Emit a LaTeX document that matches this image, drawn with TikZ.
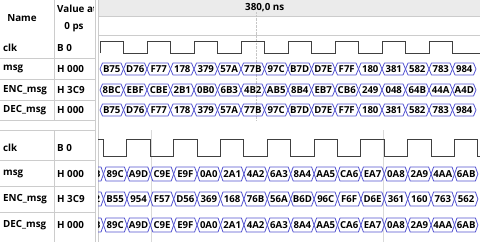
\documentclass[tikz,border=0pt]{standalone}
\usepackage{fontspec}
\setmainfont{Open Sans}
\definecolor{busblue}{rgb}{0.33,0.33,0.82}
\definecolor{rulegray}{gray}{0.80}
\definecolor{bargray}{gray}{0.92}
\tikzset{
  txt/.style={font=\bfseries\fontsize{9.8}{11}\selectfont,inner sep=0pt,anchor=west},
  hexval/.style={font=\bfseries\fontsize{9.6}{11}\selectfont,inner sep=0pt},
  bus/.style={busblue,line width=0.8pt,line join=round},
  wave/.style={black!75,line width=1pt},
  rule/.style={rulegray,line width=0.6pt}
}
% one bus row: prefix, centre y, half height, start x, step, values
\newcommand{\busrow}[6]{%
  \foreach \v [count=\i from 0] in {#6} {
    \pgfmathsetmacro{\xa}{#4+#5*\i}
    \pgfmathsetmacro{\xb}{\xa+#5}
    \draw[bus] (\xa,#2) -- (\xa+2.5,#2-#3) -- (\xb-2.5,#2-#3) -- (\xb,#2)
      -- (\xb-2.5,#2+#3) -- (\xa+2.5,#2+#3) -- cycle;
    \node[hexval] (#1\i) at ({(\xa+\xb)/2},#2) {\v};
  }}

\begin{document}
\begin{tikzpicture}[x=1pt,y=-1pt]
  \useasboundingbox (0,0) rectangle (480,242);
  \fill[white] (0,0) rectangle (480,242);
  % time bar
  \fill[bargray] (98,0) rectangle (480,16);
  \draw[rule] (98,16) -- (480,16);
  \draw[rule] (98,35) -- (480,35);
  \node[txt] (time) at (245,8) {380,0 ns};
  \draw[gray!45,densely dotted] (256,12) -- (256,120);
  \draw[gray!30] (151,130) -- (151,242);
  \draw[gray!30] (383,130) -- (383,242);
  % name and value columns
  \draw[rule] (54,0) -- (54,120);
  \draw[rule] (54,130) -- (54,242);
  \draw[rule] (95,0) -- (95,242);
  \draw[rule] (98,0) -- (98,242);
  \foreach \y in {58,79,100,120,130,160,186,212} \draw[rule] (0,\y) -- (95,\y);
  \node[txt,anchor=center] (name) at (22,18) {Name};
  \begin{scope}
    \clip (55,0) rectangle (93.5,20);
    \node[txt] (valat) at (57,9) {Value at};
  \end{scope}
  \node[txt,anchor=center] (valps) at (74,27) {0 ps};
  \foreach \n/\t/\val/\y in {clkA/clk/B 0/48, msgA/msg/H 000/69, encA/ENC\_msg/H 3C9/90, decA/DEC\_msg/H 000/110,
      clkB/clk/B 0/148, msgB/msg/H 000/174, encB/ENC\_msg/H 3C9/199, decB/DEC\_msg/H 000/225} {
    \node[txt] (\n-name) at (3,\y) {\t};
    \node[txt] (\n-val) at (57,\y) {\val};
  }
  % clocks
  \draw[wave] (100,53) -- (100,41) foreach \k in {0,...,6} { -- ++(23.5,0) -- ++(0,12) -- ++(23.5,0) -- ++(0,-12) }
    -- ++(23.5,0) -- ++(0,12) -- (480,53);
  \draw[wave] (98,139) -- (103.5,139) -- ++(0,17) foreach \k in {0,...,7} { -- ++(23.4,0) -- ++(0,-17) -- ++(23.4,0) -- ++(0,17) }
    -- (480,156);
  % buses, upper window
  \busrow{msgA}{69}{6}{100}{23.5}{B75,D76,F77,178,379,57A,77B,97C,B7D,D7E,F7F,180,381,582,783,984}
  \busrow{encA}{90}{6}{100}{23.5}{8BC,EBF,CBE,2B1,0B0,6B3,4B2,AB5,8B4,EB7,CB6,249,048,64B,44A,A4D}
  \busrow{decA}{110}{6}{100}{23.5}{B75,D76,F77,178,379,57A,77B,97C,B7D,D7E,F7F,180,381,582,783,984}
  % buses, lower window
  \busrow{msgB}{174}{7}{103.5}{23.4}{89C,A9D,C9E,E9F,0A0,2A1,4A2,6A3,8A4,AA5,CA6,EA7,0A8,2A9,4AA,6AB}
  \busrow{encB}{199}{7}{103.5}{23.4}{B55,954,F57,D56,369,168,76B,56A,B6D,96C,F6F,D6E,361,160,763,562}
  \busrow{decB}{225}{7}{103.5}{23.4}{89C,A9D,C9E,E9F,0A0,2A1,4A2,6A3,8A4,AA5,CA6,EA7,0A8,2A9,4AA,6AB}
  \begin{scope}
    \clip (98,160) rectangle (103.5,242);
    \busrow{msgP}{174}{7}{80.1}{23.4}{69B}
    \busrow{encP}{199}{7}{80.1}{23.4}{562}
    \busrow{decP}{225}{7}{80.1}{23.4}{69B}
  \end{scope}
\end{tikzpicture}
\end{document}
